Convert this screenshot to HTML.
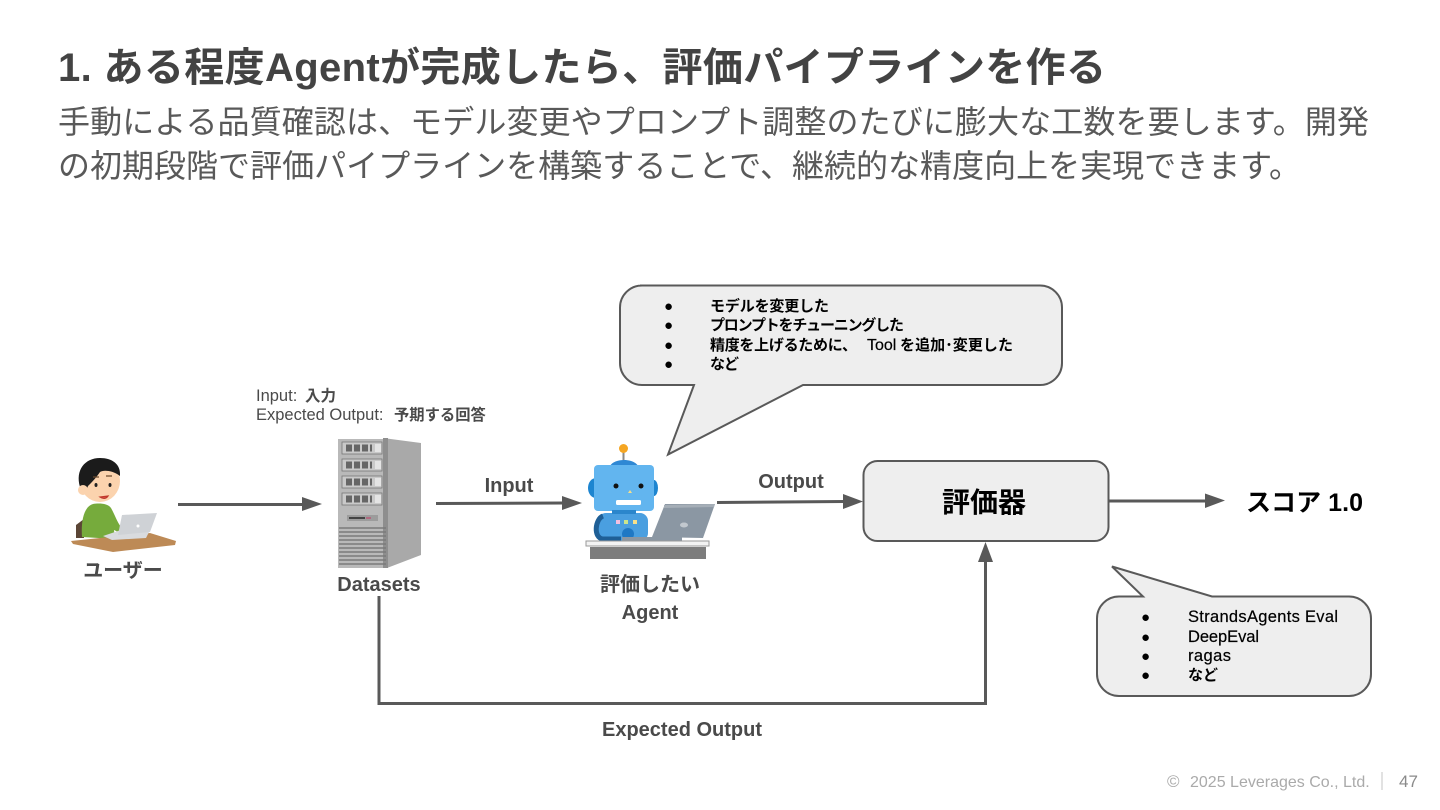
<!DOCTYPE html>
<html lang="ja"><head><meta charset="utf-8"><title>評価パイプライン</title>
<style>
html,body{margin:0;padding:0;background:#fff}
svg{display:block}
text{font-family:"Liberation Sans","Noto Sans CJK JP",sans-serif}
.h{font-weight:700;fill:#434343}
.b{fill:#595959}
.l{font-weight:700;fill:#4a4a4a;font-size:20px}
.k{font-weight:700;fill:#000;font-size:15px}
.n{fill:#000;font-size:16.500px;font-weight:400;stroke:#000;stroke-width:.2px}
</style></head><body>
<svg width="1440" height="810" viewBox="0 0 1440 810" xmlns="http://www.w3.org/2000/svg">
<rect width="1440" height="810" fill="#fff"/>
<text class="h" x="58" y="81" font-size="40" textLength="1048" lengthAdjust="spacing">1. ある程度Agentが完成したら、評価パイプラインを作る</text>
<text class="b" x="58" y="133" font-size="32" textLength="1311" lengthAdjust="spacing">手動による品質確認は、モデル変更やプロンプト調整のたびに膨大な工数を要します。開発</text>
<text class="b" x="58" y="177" font-size="32" textLength="1243" lengthAdjust="spacing">の初期段階で評価パイプラインを構築することで、継続的な精度向上を実現できます。</text>

<!-- top callout -->
<path d="M640 285.500H1040a22 22 0 0 1 22 22V363a22 22 0 0 1-22 22H803L668 454.500 694 385H642a22 22 0 0 1-22-22V307.500a22 22 0 0 1 22-22Z" fill="#eeeeee" stroke="#595959" stroke-width="2"/>
<text class="k" x="664" y="311">●</text><text class="k" x="710" y="311" textLength="119">モデルを変更した</text>
<text class="k" x="664" y="330">●</text><text class="k" x="710" y="330" textLength="194">プロンプトをチューニングした</text>
<text class="k" x="664" y="350">●</text><text class="k" x="710" y="350" textLength="147">精度を上げるために、</text><text x="867" y="350" font-size="16" fill="#000" stroke="#000" stroke-width=".2">Tool</text><text class="k" x="900" y="350" textLength="113">を追加･変更した</text>
<text class="k" x="664" y="369">●</text><text class="k" x="710" y="369" textLength="29">など</text>

<!-- labels -->
<text x="256" y="401" font-size="16.500" fill="#4a4a4a">Input:</text><text x="305" y="401" font-weight="700" font-size="15.500" fill="#4a4a4a">入力</text>
<text x="256" y="420" font-size="16.500" fill="#4a4a4a">Expected Output:</text>
<text x="394" y="420" font-size="15.300" font-weight="700" fill="#4a4a4a">予期する回答</text>

<!-- user -->
<g>
<path d="M76 525 84 519V538H76Z" fill="#5b4636"/>
<path d="M82 537c-1-14 1-30 11-33 5-1 15-1 18 4 4 7 6 14 10 19l-3 5-4-2 1 9Z" fill="#76ab3c"/>
<ellipse cx="100" cy="481" rx="20" ry="21" fill="#fbd3ae"/>
<path d="M80 487C75 470 85 458 100 458 112 458 121 464 120 476 112 470 103 470 100 472 96 478 92 482 88 486L86 491C84 489 82 489 80 487Z" fill="#1b1b1b"/>
<circle cx="83" cy="490" r="5" fill="#fbd3ae"/>
<path d="M93 477h6M106 476h6" stroke="#6b4a2d" stroke-width="1.200"/>
<ellipse cx="96" cy="485" rx="1.500" ry="2" fill="#222"/><ellipse cx="110" cy="485" rx="1.500" ry="2" fill="#222"/>
<path d="M100 497c3 2 6 2 8-1Z" fill="#d9534f" stroke="#c0392b" stroke-width="1.200"/>
<path d="M71 541 100 538 150 533 176 541 175 545 113 552 73 544Z" fill="#bd8a56"/>
<path d="M103 536 118 531 151 528 146 538 112 540Z" fill="#d9dbde"/>
<path d="M122 515 157 513 150 532 118 535Z" fill="#cfd2d6"/>
<circle cx="138" cy="526" r="1.500" fill="#fff"/>
</g>
<text class="l" x="123" y="577" text-anchor="middle">ユーザー</text>

<!-- arrows -->
<g fill="none" stroke="#595959" stroke-width="3">
<path d="M178 504.500H304"/><path d="M436 503.500 564 503"/><path d="M717 502.500 845 501.500"/><path d="M1108 501H1206"/>
<path d="M379 596V703.500H985.500V560"/>
</g>
<g fill="#595959">
<path d="M302 497 322 504 302 511Z"/><path d="M562 496 582 503 562 510Z"/><path d="M843 494 863 501.500 843 509Z"/><path d="M1205 493.500 1225 500.500 1205 508Z"/><path d="M978 562 985.500 542 993 562Z"/>
</g>

<!-- server -->
<g>
<rect x="338" y="439" width="50" height="129" fill="#b9b9b9"/>
<path d="M383 438 421 443V555L387 568V438Z" fill="#a9a9a9"/>
<rect x="383" y="438" width="5" height="130" fill="#8e8e8e"/>
<g fill="#c9c9c9" stroke="#777" stroke-width=".8">
<rect x="342" y="442" width="40" height="12"/><rect x="342" y="459" width="40" height="12"/><rect x="342" y="476" width="40" height="12"/><rect x="342" y="493" width="40" height="12"/>
</g>
<g stroke="#666" stroke-width="7" stroke-dasharray="6 2" fill="none">
<path d="M346 448H372M346 465H372M346 482H372M346 499H372"/>
</g>
<g fill="#e4e4e4"><rect x="375" y="444" width="6" height="8"/><rect x="375" y="461" width="6" height="8"/><rect x="375" y="478" width="6" height="8"/><rect x="375" y="495" width="6" height="8"/></g>
<rect x="347" y="515" width="31" height="6" fill="#9c9c9c"/>
<rect x="349" y="517" width="16" height="2" fill="#444"/><rect x="366" y="517" width="5" height="2" fill="#b06a80"/>
<g stroke="#7a7a7a" stroke-width="1.400">
<path d="M339 528H386M339 532H386M339 536H386M339 540H386M339 544H386M339 548H386M339 552H386M339 556H386M339 560H386M339 564H386"/>
</g>
</g>
<text class="l" x="379" y="591" text-anchor="middle">Datasets</text>

<text class="l" x="509" y="492" text-anchor="middle">Input</text>
<text class="l" x="791" y="488" text-anchor="middle">Output</text>

<!-- robot -->
<g>
<path d="M623.500 450V462" stroke="#8a8a8a" stroke-width="2"/>
<circle cx="623.500" cy="448.500" r="4.500" fill="#f5a623"/>
<path d="M610 466c4-8 24-8 28 0Z" fill="#2f88d4"/>
<ellipse cx="596" cy="488" rx="8" ry="10" fill="#1d85d0"/>
<ellipse cx="654" cy="488" rx="4" ry="8" fill="#1d85d0"/>
<rect x="598" y="513" width="50" height="28" rx="8" fill="#4a9fe0"/>
<path d="M603 516c-8 3-10 22 0 23h18" fill="none" stroke="#1f5f96" stroke-width="5"/>
<circle cx="628" cy="534" r="6" fill="#1f78c4"/>
<rect x="594" y="465" width="60" height="46" rx="4" fill="#62b5ef"/>
<rect x="612" y="510" width="24" height="4" fill="#2b86cc"/>
<circle cx="616" cy="486" r="2.500" fill="#111"/><circle cx="641" cy="486" r="2.500" fill="#111"/>
<path d="M628 493h4l-2-3Z" fill="#f7e08a"/>
<rect x="616" y="500" width="25" height="5" rx="1.500" fill="#fff"/>
<rect x="616" y="520" width="4" height="4" fill="#f2bfe0"/><rect x="624" y="520" width="4" height="4" fill="#cbe58c"/><rect x="633" y="520" width="4" height="4" fill="#f7e08a"/>
<path d="M652 537 665 504 715 504 703 538Z" fill="#8b97a3"/>
<path d="M664 505 715 504 714 507 664 508Z" fill="#a5aeb7"/>
<ellipse cx="684" cy="525" rx="4" ry="2.500" fill="#c2c8ce"/>
<path d="M622 537H682V541H622Z" fill="#8b97a3"/>
<rect x="586" y="541" width="123" height="5" fill="#f3f3f3" stroke="#999" stroke-width="1"/>
<rect x="590" y="547" width="116" height="12" fill="#7d7d7d"/>
</g>
<text class="l" x="650" y="591" text-anchor="middle">評価したい</text>
<text class="l" x="650" y="619" text-anchor="middle">Agent</text>

<!-- evaluator -->
<rect x="863.500" y="461" width="245" height="80" rx="14" fill="#eeeeee" stroke="#595959" stroke-width="2"/>
<text x="984" y="512" text-anchor="middle" font-size="28" font-weight="700" fill="#000">評価器</text>
<text x="1246" y="511" font-size="25" font-weight="700" fill="#000" textLength="117">スコア 1.0</text>

<!-- lower callout -->
<path d="M1125 596.500H1143L1112 566.500 1212 596.500H1349a22 22 0 0 1 22 22V674a22 22 0 0 1-22 22H1119a22 22 0 0 1-22-22V618.500a22 22 0 0 1 22-22Z" fill="#eeeeee" stroke="#595959" stroke-width="2"/>
<text class="k" x="1141" y="622" style="font-weight:400">●</text><text class="n" x="1188" y="622" textLength="150">StrandsAgents Eval</text>
<text class="k" x="1141" y="642" style="font-weight:400">●</text><text class="n" x="1188" y="642" textLength="71">DeepEval</text>
<text class="k" x="1141" y="661" style="font-weight:400">●</text><text class="n" x="1188" y="661" textLength="43">ragas</text>
<text class="k" x="1141" y="680" style="font-weight:400">●</text><text class="k" x="1188" y="680">など</text>

<text class="l" x="682" y="736" text-anchor="middle">Expected Output</text>

<!-- footer -->
<text x="1167" y="787" font-size="17" fill="#aaaaaa">©</text>
<text x="1190" y="787" font-size="16" fill="#aaaaaa">2025 Leverages Co., Ltd.</text>
<rect x="1381.500" y="772" width="1" height="18" fill="#c4c4c4"/>
<text x="1399" y="787" font-size="17" fill="#8a8a8a">47</text>
</svg>
</body></html>
